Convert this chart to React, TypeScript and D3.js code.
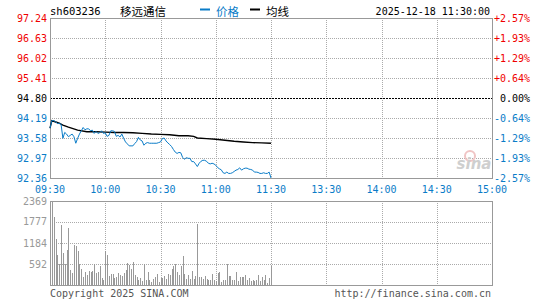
import React from 'react';
import * as d3 from 'd3';

// 1-minute prices from 09:30 (minute 0) to 11:30 (minute 120)
const prices = [
  93.88, 94.11, 94.11, 94.08, 94.02, 94.03, 94.0, 93.57, 93.75, 93.7,
  93.62, 93.66, 93.7, 93.62, 93.42, 93.57, 93.7, 93.8, 93.9, 93.83,
  93.86, 93.86, 93.8, 93.82, 93.72, 93.78, 93.72, 93.74, 93.8, 93.72,
  93.74, 93.63, 93.66, 93.8, 93.8, 93.78, 93.63, 93.66, 93.61, 93.7,
  93.57, 93.46, 93.4, 93.34, 93.34, 93.34, 93.41, 93.47, 93.6, 93.52,
  93.49, 93.36, 93.42, 93.44, 93.42, 93.42, 93.42, 93.42, 93.42, 93.44,
  93.46, 93.56, 93.58, 93.49, 93.43, 93.38, 93.32, 93.23, 93.15, 93.11,
  93.14, 93.13, 92.99, 92.93, 92.98, 92.96, 92.96, 92.86, 92.86,
  92.79, 92.71, 92.81, 92.87, 92.9, 92.9, 92.87, 92.81, 92.79, 92.81,
  92.79, 92.75, 92.68, 92.64, 92.61, 92.52, 92.5, 92.54, 92.5, 92.5,
  92.52, 92.56, 92.6, 92.62, 92.67, 92.6, 92.64, 92.66, 92.66, 92.63,
  92.62, 92.6, 92.54, 92.54, 92.53, 92.5, 92.5, 92.52, 92.5, 92.5,
  92.54, 92.36,
];

const volumes = [
  658, 2369, 1927, 1288, 846, 592, 1692, 893, 592, 987,
  1598, 423, 329, 1128, 1109, 959, 592, 451, 216, 357,
  282, 395, 357, 395, 583, 348, 376, 536, 188, 150,
  959, 846, 263, 301, 301, 188, 235, 338, 282, 250,
  329, 423, 611, 564, 451, 658, 282, 235, 141, 188,
  113, 583, 141, 357, 141, 75, 169, 235, 301, 75,
  207, 207, 254, 169, 310, 282, 442, 545, 583, 357,
  282, 536, 818, 301, 160, 282, 160, 395, 169,
  254, 1711, 235, 235, 160, 254, 160, 141, 141, 310,
  141, 113, 329, 376, 75, 141, 141, 583, 254, 254,
  141, 141, 357, 113, 235, 235, 235, 282, 141, 188,
  113, 141, 113, 141, 282, 113, 235, 141, 282, 47,
  207, 536,
];

// average price line, read at these minutes
const avgMinutes = [0, 1, 2, 5, 7, 10, 15, 20, 25, 30, 35, 40, 45, 50, 55, 60, 65, 70, 75, 78, 80, 85, 90, 95, 100, 105, 110, 115, 120];
const avgValues = [
  93.88, 94.11, 94.09, 94.03, 93.97, 93.91, 93.82, 93.77, 93.77, 93.76,
  93.75, 93.75, 93.74, 93.72, 93.7, 93.69, 93.68, 93.65, 93.65, 93.63,
  93.58, 93.56, 93.54, 93.51, 93.48, 93.46, 93.44, 93.43, 93.42,
];

const priceTicks = [97.24, 96.63, 96.02, 95.41, 94.8, 94.19, 93.58, 92.97, 92.36];
const pctTicks = ['+2.57%', '+1.93%', '+1.29%', '+0.64%', '0.00%', '-0.64%', '-1.29%', '-1.93%', '-2.57%'];
const timeTicks = ['09:30', '10:00', '10:30', '11:00', '11:30', '13:30', '14:00', '14:30', '15:00'];
const volTicks = [2369, 1777, 1184, 592];

const prevClose = 94.8;
const RED = '#f00000';
const BLUE = '#0a7cc8';
const GRID = '#aaaaaa';
const MONO = '"DejaVu Sans Mono", monospace';
const CJK = '"Noto Sans CJK SC", sans-serif';

export default function App() {
  const left = 50, right = 492;
  const x = d3.scaleLinear().domain([0, 240]).range([left, right]);
  const y = d3.scaleLinear().domain([92.36, 97.24]).range([178, 18]);
  const yv = d3.scaleLinear().domain([0, 2369]).range([285, 201]);

  const priceLine = d3.line<number>().x((_, i) => x(i)).y(d => y(d));
  const avgLine = d3.line<number>().x((_, i) => x(avgMinutes[i])).y(d => y(d));

  const colorFor = (v: number) => (v > prevClose ? RED : v < prevClose ? BLUE : '#000');
  const volGrid = [0, 1, 2, 3, 4].map(i => 201 + i * 21);

  return (
    <svg width={545} height={300} style={{ position: 'absolute', left: 0, top: 0, background: '#fff' }}>
      {/* header */}
      <text x={50} y={11} dominantBaseline="central" fontFamily={MONO} fontSize={10.5} fill="#000">sh603236</text>
      <text x={120} y={11} dominantBaseline="central" fontFamily={CJK} fontSize={11.5} fill="#000">移远通信</text>
      <rect x={200} y={8.5} width={10} height={2} fill={BLUE} />
      <text x={216} y={11} dominantBaseline="central" fontFamily={CJK} fontSize={11.5} fill={BLUE}>价格</text>
      <rect x={250} y={8.5} width={10} height={2} fill="#000" />
      <text x={266} y={11} dominantBaseline="central" fontFamily={CJK} fontSize={11.5} fill="#000">均线</text>
      <text x={490} y={11} textAnchor="end" dominantBaseline="central" fontFamily={MONO} fontSize={10} fill="#000">2025-12-18 11:30:00</text>

      {/* price grid */}
      <g shapeRendering="crispEdges">
        {priceTicks.map((p, i) => (i === 0 || i === 8 || p === prevClose ? null : (
          <line key={'h' + i} x1={left} x2={right} y1={Math.round(y(p)) + 0.5} y2={Math.round(y(p)) + 0.5} stroke={GRID} strokeDasharray="1,1" />
        )))}
        {timeTicks.map((t, i) => (i === 0 || i === 8 ? null : (
          <line key={'v' + t} x1={Math.round(x(i * 30)) + 0.5} x2={Math.round(x(i * 30)) + 0.5} y1={18} y2={178} stroke={GRID} strokeDasharray="1,1" />
        )))}
        <line x1={left} x2={right} y1={Math.round(y(prevClose)) + 0.5} y2={Math.round(y(prevClose)) + 0.5} stroke="#000" strokeDasharray="2,1" />
        <rect x={left + 0.5} y={18.5} width={right - left} height={160} fill="none" stroke="#999" />
      </g>

      {/* watermark */}
      <circle cx={470} cy={156} r={5} fill="none" stroke="#f0c4c4" strokeWidth={2} />
      <text x={474} y={169} textAnchor="middle" fontFamily="'DejaVu Sans', sans-serif" fontStyle="italic" fontWeight="bold" fontSize={15} fill="#cfcfcf">sina</text>

      {/* lines */}
      <path d={avgLine(avgValues) || ''} fill="none" stroke="#000" strokeWidth={1.4} />
      <path d={priceLine(prices) || ''} fill="none" stroke={BLUE} strokeWidth={1} />

      {/* price axis labels */}
      {priceTicks.map((p, i) => (
        <text key={'pl' + i} x={47} y={y(p)} textAnchor="end" dominantBaseline="central" fontFamily={MONO} fontSize={10} fill={colorFor(p)}>{p.toFixed(2)}</text>
      ))}
      {priceTicks.map((p, i) => (
        <text key={'pr' + i} x={530} y={y(p)} textAnchor="end" dominantBaseline="central" fontFamily={MONO} fontSize={10} fill={colorFor(p)}>{pctTicks[i]}</text>
      ))}
      {timeTicks.map((t, i) => (
        <text key={'t' + t} x={x(i * 30)} y={189} textAnchor="middle" dominantBaseline="central" fontFamily={MONO} fontSize={10} fill={BLUE}>{t}</text>
      ))}

      {/* volume panel */}
      <g shapeRendering="crispEdges">
        {volGrid.slice(1, 4).map(g => (
          <line key={'vg' + g} x1={left} x2={right} y1={g + 0.5} y2={g + 0.5} stroke={GRID} strokeDasharray="1,1" />
        ))}
        {timeTicks.map((t, i) => (i === 0 || i === 8 ? null : (
          <line key={'vv' + t} x1={Math.round(x(i * 30)) + 0.5} x2={Math.round(x(i * 30)) + 0.5} y1={201} y2={285} stroke={GRID} strokeDasharray="1,1" />
        )))}
        {volumes.map((v, i) => (
          <rect key={'b' + i} x={Math.round(x(i))} y={yv(v)} width={1} height={285 - yv(v)} fill="#999" />
        ))}
        <rect x={left + 0.5} y={201.5} width={right - left} height={84} fill="none" stroke="#999" />
      </g>
      {volTicks.map(v => (
        <text key={'vt' + v} x={47} y={yv(v)} textAnchor="end" dominantBaseline="central" fontFamily={MONO} fontSize={10} fill="#999">{v}</text>
      ))}

      {/* footer */}
      <text x={50} y={293} dominantBaseline="central" fontFamily={MONO} fontSize={10} fill="#555">Copyright 2025 SINA.COM</text>
      <text x={491} y={293} textAnchor="end" dominantBaseline="central" fontFamily={MONO} fontSize={10} fill="#555">http://finance.sina.com.cn</text>
    </svg>
  );
}
